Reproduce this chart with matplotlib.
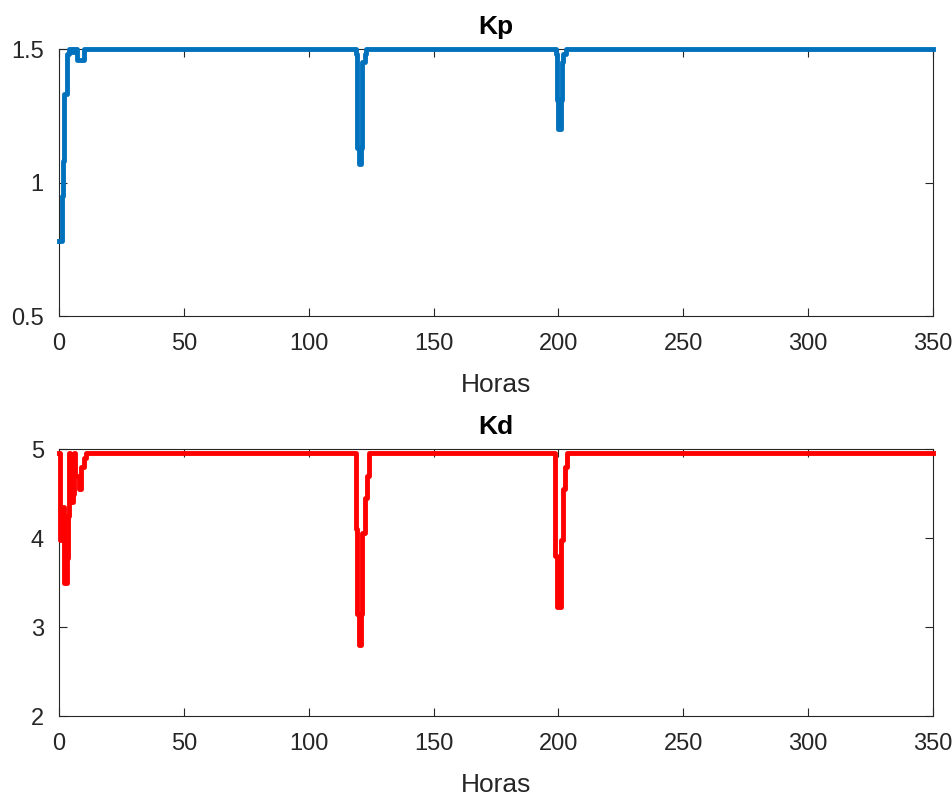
import matplotlib
matplotlib.use("Agg")
import matplotlib.pyplot as plt

plt.rcParams["font.family"] = ["Liberation Sans", "DejaVu Sans"]

# Kp samples (hours, value held until next sample) - flat at 1.5 between disturbances
kp_t = [0, 1, 1.5, 2, 3, 4, 5, 6, 7, 10,
        119, 119.5, 120, 121, 121.5, 122.5, 123,
        199, 199.5, 200, 201, 201.5, 202, 203, 350]
kp_v = [0.78, 0.95, 1.08, 1.33, 1.48, 1.50, 1.49, 1.50, 1.46, 1.50,
        1.48, 1.13, 1.07, 1.13, 1.45, 1.48, 1.50,
        1.48, 1.31, 1.20, 1.31, 1.45, 1.48, 1.50, 1.50]

# Kd samples (hours, value held until next sample) - flat at ~4.95 between disturbances
kd_t = [0, 0.5, 1.5, 2, 3, 3.5, 4, 4.5, 5.5, 6, 6.5, 8, 9, 10, 11,
        119, 119.5, 120, 121, 121.5, 122.4, 123.5, 124.2,
        198.8, 199.5, 201, 201.8, 202.5, 203.5, 350]
kd_v = [4.95, 3.98, 4.35, 3.50, 3.78, 4.25, 4.95, 4.40, 4.50, 4.95, 4.70, 4.55, 4.80, 4.90, 4.95,
        4.10, 3.15, 2.80, 3.15, 4.06, 4.45, 4.70, 4.95,
        3.80, 3.22, 3.98, 4.55, 4.80, 4.95, 4.95]

x_ticks = [0, 50, 100, 150, 200, 250, 300, 350]
kp_ticks = [0.5, 1, 1.5]
kp_labels = ["0.5", "1", "1.5"]
kd_ticks = [2, 3, 4, 5]

edge = "#262626"

fig = plt.figure(figsize=(9.52, 7.96), dpi=100)
ax1 = fig.add_axes([0.062, 0.603, 0.918, 0.3354])
ax2 = fig.add_axes([0.062, 0.1005, 0.918, 0.3354])


def style(ax, title, yticks, ylabels, ylim):
    ax.set_xlim(0, 350)
    ax.set_ylim(*ylim)
    ax.set_xticks(x_ticks)
    ax.set_yticks(yticks)
    ax.set_yticklabels(ylabels)
    ax.tick_params(direction="in", top=True, right=True, length=6,
                   width=0.8, colors=edge, labelsize=17)
    ax.tick_params(axis="x", pad=12)
    ax.tick_params(axis="y", pad=11)
    for s in ax.spines.values():
        s.set_color(edge)
        s.set_linewidth(0.8)
    ax.set_title(title, fontsize=19, fontweight="bold", pad=11, color="black")
    ax.set_xlabel("Horas", fontsize=19, color=edge, labelpad=13)


ax1.plot(kp_t, kp_v, color="#0072BD", lw=3.5, drawstyle="steps-post",
         clip_on=False, zorder=3)
style(ax1, "Kp", kp_ticks, kp_labels, (0.5, 1.5))

ax2.plot(kd_t, kd_v, color="#FF0000", lw=3.5, drawstyle="steps-post",
         clip_on=False, zorder=3)
style(ax2, "Kd", kd_ticks, [str(v) for v in kd_ticks], (2, 5))

fig.savefig("out.png", dpi=100)
